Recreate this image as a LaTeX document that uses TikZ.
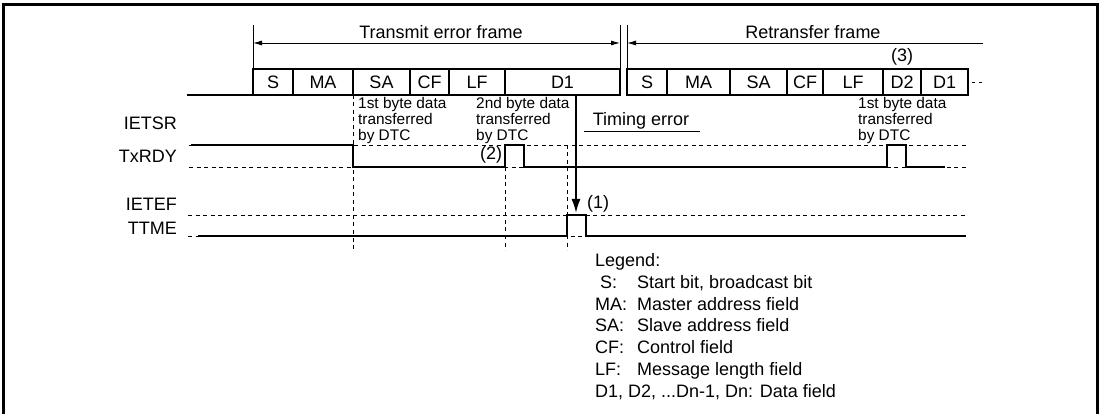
\documentclass[tikz,border=0pt]{standalone}
\usepackage{fontspec}
\setmainfont{Liberation Sans}
\usetikzlibrary{arrows.meta, positioning, calc}

\begin{document}
\begin{tikzpicture}[
  x=1pt, y=-1pt,
  field/.style={draw, line width=1.8pt},
  fieldtxt/.style={font=\fontsize{18}{20}\selectfont, inner sep=0pt},
  sig/.style={line width=2.8pt, line join=miter},
  guide/.style={line width=0.9pt, dash pattern=on 4pt off 3.5pt},
  marker/.style={line width=0.9pt},
  span/.style={marker, {Latex[length=9pt,width=5pt]}-{Latex[length=9pt,width=5pt]}},
  note/.style={font=\fontsize{15.4}{16}\selectfont, align=left, inner sep=0pt, anchor=north west},
  every node/.style={font=\fontsize{18}{21.7}\selectfont, inner sep=0pt}
]
  \useasboundingbox (0,0) rectangle (1100,414);
  \draw[line width=3pt] (3.5,5) rectangle (1097.5,418);

  % frame extents
  \coordinate (txa) at (253,43);
  \coordinate (txb) at (620,43);
  \coordinate (rea) at (627,43);
  \coordinate (reb) at (983,43);
  \draw[marker] (253,25) -- (253,69);
  \draw[marker] (620,25) -- (620,95);
  \draw[marker] (627,25) -- (627,95);
  \draw[span] (txa) -- (txb);
  \draw[marker, {Latex[length=9pt,width=5pt]}-] (rea) -- (reb);
  \node[anchor=base] (txlbl) at (441,38.5) {Transmit error frame};
  \node[anchor=base] (relbl) at (813,38.5) {Retransfer frame};

  % frame fields
  \draw[sig] (187,95) -- (620,95);
  \foreach \xa/\xb/\lbl [count=\i] in {253/293/S, 293/353/MA, 353/410/SA,
                                       410/449/CF, 449/505/LF, 505/620/D1}{
    \draw[field] (\xa,69) rectangle (\xb,95);
    \node[fieldtxt] (tx\i) at ({(\xa+\xb)/2},82) {\lbl};
  }
  \foreach \xa/\xb/\lbl [count=\i] in {627/667/S, 667/730/MA, 730/787/SA,
                                       787/823/CF, 823/883/LF, 883/921/D2, 921/968/D1}{
    \draw[field] (\xa,69) rectangle (\xb,95);
    \node[fieldtxt] (re\i) at ({(\xa+\xb)/2},82) {\lbl};
  }
  \draw[marker, dash pattern=on 3pt off 4pt] (972,82) -- (985,82);
  \node[anchor=base] (n3) at (902,62) {(3)};

  % signal names
  \node[anchor=base east] (ietsr) at (177,129.5) {IETSR};
  \node[anchor=base east] (txrdy) at (177,162.5) {TxRDY};
  \node[anchor=base east] (ietef) at (177,210.5) {IETEF};
  \node[anchor=base east] (ttme)  at (177,234.5) {TTME};

  % levels
  \draw[guide] (189,145) -- (966,145);
  \draw[guide] (189,167) -- (966,167);
  \draw[guide] (188,215) -- (966,215);
  \draw[guide] (188,236) -- (966,236);
  \draw[guide] (353,95) -- (353,250);
  \draw[guide] (505,145) -- (505,250);
  \draw[guide] (567,145) -- (567,250);

  \draw[sig] (191,145) -- (353,145) -- (353,167) -- (505,167) -- (505,145)
             -- (524,145) -- (524,167) -- (887,167) -- (887,145) -- (906,145)
             -- (906,167) -- (945,167);
  \draw[sig] (198,236) -- (567,236) -- (567,215) -- (586,215) -- (586,236)
             -- (966,236);

  % DTC transfers
  \node[note] (dtc1) at (358,97) {1st byte data\\transferred\\by DTC};
  \node[note] (dtc2) at (476,97) {2nd byte data\\transferred\\by DTC};
  \node[note] (dtc3) at (858,97) {1st byte data\\transferred\\by DTC};
  \node[anchor=base] (n2) at (491,160) {(2)};

  % timing error
  \coordinate (errtop) at (576,95);
  \coordinate (errtip) at (576,214);
  \draw[sig, -{Latex[length=15pt,width=9pt]}] (errtop) -- (errtip);
  \node[anchor=base] (n1) at (598,208) {(1)};
  \node[anchor=base] (terr) at (641,126) {Timing error};
  \draw[marker] (584,131) -- (700,131);

  % legend
  \node[anchor=north west] (legend) at (595,251.5) {%
    \begin{tabular}{@{}p{42pt}@{}l@{}}
      \multicolumn{2}{@{}l@{}}{Legend:}\\
      \hspace*{5pt}S: & Start bit, broadcast bit\\
      MA: & Master address field\\
      SA: & Slave address field\\
      CF: & Control field\\
      LF: & Message length field\\
      \multicolumn{2}{@{}l@{}}{D1, D2, ...Dn-1, Dn: Data field}
    \end{tabular}};
\end{tikzpicture}
\end{document}
